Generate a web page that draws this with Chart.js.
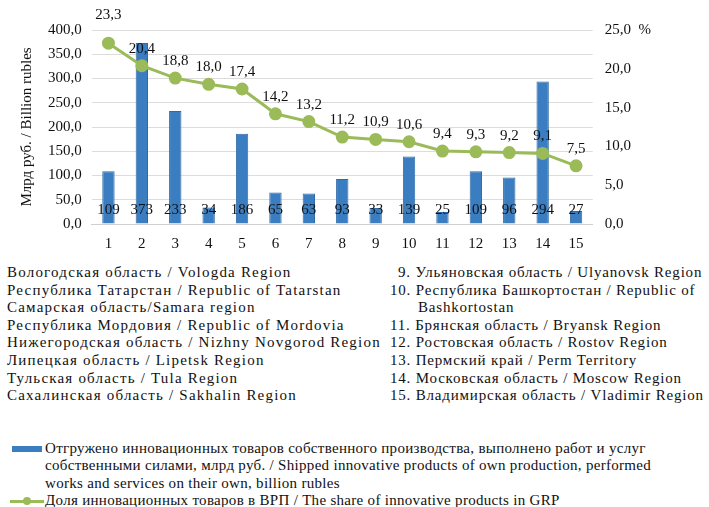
<!DOCTYPE html>
<html>
<head>
<meta charset="utf-8">
<script src="https://cdn.jsdelivr.net/npm/chart.js@4"></script>
<style>
  body { margin: 0; background: #fff; width: 709px; height: 507px; overflow: hidden; font-family: "Liberation Serif", "Times New Roman", "DejaVu Serif", serif; color: #111; }
  #wrap { position: absolute; left: 0; top: 0; width: 709px; height: 260px; }
  .list { position: absolute; top: 264px; font-size: 15px; line-height: 17.6px; white-space: nowrap; }
  .legend { position: absolute; left: 0; top: 440px; font-size: 15px; line-height: 17.3px; letter-spacing: 0.3px; white-space: nowrap; }
  .legend div { position: relative; padding-left: 45px; }
  .bar-key { position: absolute; left: 12px; top: 6px; width: 30px; height: 6px; background: #3a7dc0; }
  .line-key { position: absolute; left: 10px; top: 8px; width: 34px; height: 3px; background: #9bbb59; }
  .line-key:after { content: ""; position: absolute; left: 13px; top: -3px; width: 8px; height: 8px; border-radius: 50%; background: #9bbb59; }
</style>
</head>
<body>
<div id="wrap"><canvas id="myChart" width="709" height="260"></canvas></div>

<div class="list" style="left:7px; letter-spacing:1.2px">
  <div>Вологодская область / Vologda Region</div>
  <div>Республика Татарстан / Republic of Tatarstan</div>
  <div>Самарская область/Samara region</div>
  <div>Республика Мордовия / Republic of Mordovia</div>
  <div>Нижегородская область / Nizhny Novgorod Region</div>
  <div>Липецкая область / Lipetsk Region</div>
  <div>Тульская область / Tula Region</div>
  <div>Сахалинская область / Sakhalin Region</div>
</div>
<div class="list" style="left:390px; letter-spacing:0.8px">
  <div style="padding-left:8px">9. Ульяновская область / Ulyanovsk Region</div>
  <div>10. Республика Башкортостан / Republic of</div>
  <div style="padding-left:28px">Bashkortostan</div>
  <div>11. Брянская область / Bryansk Region</div>
  <div>12. Ростовская область / Rostov Region</div>
  <div>13. Пермский край / Perm Territory</div>
  <div>14. Московская область / Moscow Region</div>
  <div>15. Владимирская область / Vladimir Region</div>
</div>

<div class="legend">
  <div><span class="bar-key"></span>Отгружено инновационных товаров собственного производства, выполнено работ и услуг<br>собственными силами, млрд руб. / Shipped innovative products of own production, performed<br>works and services on their own, billion rubles</div>
  <div><span class="line-key"></span>Доля инновационных товаров в ВРП / The share of innovative products in GRP</div>
</div>

<script>
const labels = ['1', '2', '3', '4', '5', '6', '7', '8', '9', '10', '11', '12', '13', '14', '15']
const shipped = [109, 373, 233, 34, 186, 65, 63, 93, 33, 139, 25, 109, 96, 294, 27]
const shareGRP = [23.3, 20.4, 18.8, 18.0, 17.4, 14.2, 13.2, 11.2, 10.9, 10.6, 9.4, 9.3, 9.2, 9.1, 7.5]

const comma = (v, d) => v.toFixed(d).replace('.', ',')
const serif = '"Liberation Serif", "Times New Roman", "DejaVu Serif", serif'
const font = { family: serif, size: 15 }

// draws the value labels (no datalabels plugin available offline)
const valueLabels = {
  id: 'valueLabels',
  afterDatasetsDraw(chart) {
    const ctx = chart.ctx
    ctx.save()
    ctx.font = '15px ' + serif
    ctx.fillStyle = '#111'
    ctx.textAlign = 'center'
    ctx.textBaseline = 'middle'
    const zero = chart.scales.y.getPixelForValue(0)
    chart.getDatasetMeta(0).data.forEach((bar, i) => {
      ctx.fillText(String(shipped[i]), bar.x, zero - 14)
    })
    chart.getDatasetMeta(1).data.forEach((pt, i) => {
      ctx.fillText(comma(shareGRP[i], 1), pt.x, pt.y - (i === 0 ? 28 : 17))
    })
    ctx.restore()
  }
}

new Chart(document.getElementById('myChart'), {
  data: {
    labels: labels,
    datasets: [
      {
        type: 'bar',
        label: 'shipped',
        data: shipped,
        backgroundColor: '#3a7dc0',
        borderColor: '#2f6aa6',
        borderWidth: 1,
        barPercentage: 0.37,
        categoryPercentage: 1,
        yAxisID: 'y',
        order: 2,
      },
      {
        type: 'line',
        label: 'share',
        data: shareGRP,
        borderColor: '#9bbb59',
        backgroundColor: '#9bbb59',
        borderWidth: 3,
        pointRadius: 5,
        pointHoverRadius: 5,
        tension: 0,
        yAxisID: 'y1',
        order: 1,
      },
    ],
  },
  options: {
    responsive: false,
    animation: false,
    layout: { padding: { top: 30, left: 16, right: 46, bottom: 4 } },
    plugins: { legend: { display: false }, tooltip: { enabled: false } },
    scales: {
      x: {
        grid: { display: false },
        border: { color: '#d0d0d0' },
        ticks: { font: font, color: '#111', padding: 3 },
      },
      y: {
        position: 'left',
        min: 0,
        max: 400,
        ticks: { stepSize: 50, font: font, color: '#111', padding: 10, callback: v => comma(v, 1) },
        grid: { color: '#dcdcdc', drawTicks: false },
        border: { display: false },
        title: { display: true, text: 'Млрд руб. / Billion rubles', font: { family: serif, size: 15 }, color: '#111', padding: 2 },
      },
      y1: {
        position: 'right',
        min: 0,
        max: 25,
        ticks: { stepSize: 5, font: font, color: '#111', padding: 12, callback: v => v === 25 ? '25,0  %' : comma(v, 1) },
        grid: { display: false, drawTicks: false },
        border: { display: false },
      },
    },
  },
  plugins: [valueLabels],
})
</script>
</body>
</html>
